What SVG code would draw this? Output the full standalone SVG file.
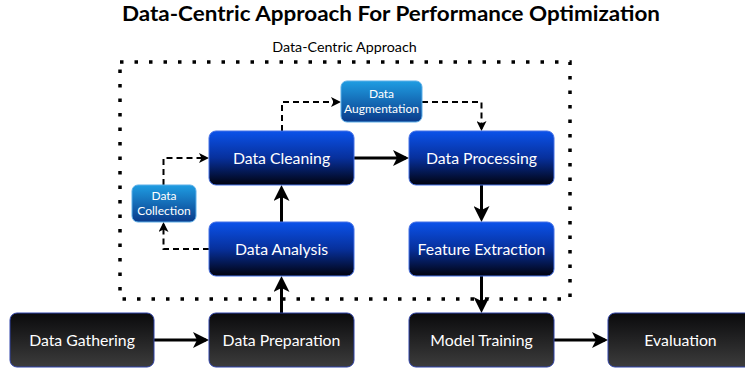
<svg xmlns="http://www.w3.org/2000/svg" width="745" height="368" viewBox="0 0 745 368">
<defs>
<style>
.title{font-family:Lato,"Open Sans","Liberation Sans",sans-serif;font-weight:bold;font-size:21px;fill:#000;text-anchor:middle}
.sub{font-family:Lato,"Open Sans","Liberation Sans",sans-serif;font-size:14.3px;fill:#000;text-anchor:middle}
.lbl{font-family:Lato,"Open Sans","Liberation Sans",sans-serif;font-size:15.8px;fill:#fff;text-anchor:middle}
.sml{font-family:Lato,"Open Sans","Liberation Sans",sans-serif;font-size:12px;fill:#fff;text-anchor:middle}
.blue{fill:url(#gBlue);stroke:#4470e6;stroke-width:1}
.light{fill:url(#gLight);stroke:#5aaee8;stroke-width:1}
.dark{fill:url(#gDark);stroke:#2f42a8;stroke-width:1}
.frame{fill:none;stroke:#000;stroke-width:3.5;stroke-dasharray:3.5 11}
.solid{fill:none;stroke:#000;stroke-width:3;marker-end:url(#aSolid)}
.dash{fill:none;stroke:#000;stroke-width:2;stroke-dasharray:6 4;marker-end:url(#aDash)}
</style>
<linearGradient id="gBlue" x1="0" y1="0" x2="0" y2="1">
<stop offset="0" stop-color="#0b52ea"/>
<stop offset="0.5" stop-color="#07309c"/>
<stop offset="1" stop-color="#01020e"/>
</linearGradient>
<linearGradient id="gLight" x1="0" y1="0" x2="0" y2="1">
<stop offset="0" stop-color="#1f9de2"/>
<stop offset="1" stop-color="#0a3a8a"/>
</linearGradient>
<linearGradient id="gDark" x1="0" y1="0" x2="0" y2="1">
<stop offset="0" stop-color="#0a0a0c"/>
<stop offset="1" stop-color="#3c3c3c"/>
</linearGradient>
<marker id="aSolid" markerUnits="userSpaceOnUse" markerWidth="16" markerHeight="16" viewBox="0 0 16 16" refX="13" refY="8" orient="auto">
<path d="M0,0 L16,8 L0,16 L4,8 z" fill="#000"/>
</marker>
<marker id="aDash" markerUnits="userSpaceOnUse" markerWidth="10" markerHeight="10" viewBox="0 0 10 10" refX="8" refY="5" orient="auto">
<path d="M0,0 L10,5 L0,10 L2.5,5 z" fill="#000"/>
</marker>
</defs>
<rect width="745" height="368" fill="#fff"/>
<text class="title" x="391" y="21" textLength="538" lengthAdjust="spacingAndGlyphs">Data-Centric Approach For Performance Optimization</text>
<g id="frame">
<text class="sub" x="344.5" y="52">Data-Centric Approach</text>
<rect class="frame" x="120" y="62" width="450" height="237"/>
</g>
<g id="connectors">
<path class="solid" d="M154,340 H206"/>
<path class="solid" d="M281.5,313 V279"/>
<path class="solid" d="M281.5,222 V188"/>
<path class="solid" d="M354,158 H406"/>
<path class="solid" d="M481.5,185 V219"/>
<path class="solid" d="M481.5,276 V310"/>
<path class="solid" d="M554,340 H605"/>
<path class="dash" d="M209,249 H163.5 V224"/>
<path class="dash" d="M163.5,185 V158 H207"/>
<path class="dash" d="M282,131 V102 H339"/>
<path class="dash" d="M422,102 H481.5 V129"/>
</g>
<g id="data-gathering"><rect class="dark" x="10" y="313" width="144" height="54" rx="7"/><text class="lbl" x="82" y="345.5">Data Gathering</text></g>
<g id="data-preparation"><rect class="dark" x="209" y="313" width="145" height="54" rx="7"/><text class="lbl" x="281.5" y="345.5">Data Preparation</text></g>
<g id="model-training"><rect class="dark" x="409" y="313" width="145" height="54" rx="7"/><text class="lbl" x="481.5" y="345.5">Model Training</text></g>
<g id="evaluation"><rect class="dark" x="608" y="313" width="145" height="54" rx="7"/><text class="lbl" x="680.5" y="345.5">Evaluation</text></g>
<g id="data-analysis"><rect class="blue" x="209" y="222" width="145" height="54" rx="7"/><text class="lbl" x="281.5" y="254.5">Data Analysis</text></g>
<g id="feature-extraction"><rect class="blue" x="409" y="222" width="145" height="54" rx="7"/><text class="lbl" x="481.5" y="254.5">Feature Extraction</text></g>
<g id="data-cleaning"><rect class="blue" x="209" y="131" width="145" height="54" rx="7"/><text class="lbl" x="281.5" y="163.5">Data Cleaning</text></g>
<g id="data-processing"><rect class="blue" x="409" y="131" width="145" height="54" rx="7"/><text class="lbl" x="481.5" y="163.5">Data Processing</text></g>
<g id="data-augmentation"><rect class="light" x="341" y="81" width="81" height="41" rx="6"/><text class="sml" x="381.5" y="98">Data</text><text class="sml" x="381.5" y="112.5">Augmentation</text></g>
<g id="data-collection"><rect class="light" x="132" y="185" width="64" height="37" rx="6"/><text class="sml" x="164" y="200">Data</text><text class="sml" x="164" y="214.5">Collection</text></g>
</svg>
